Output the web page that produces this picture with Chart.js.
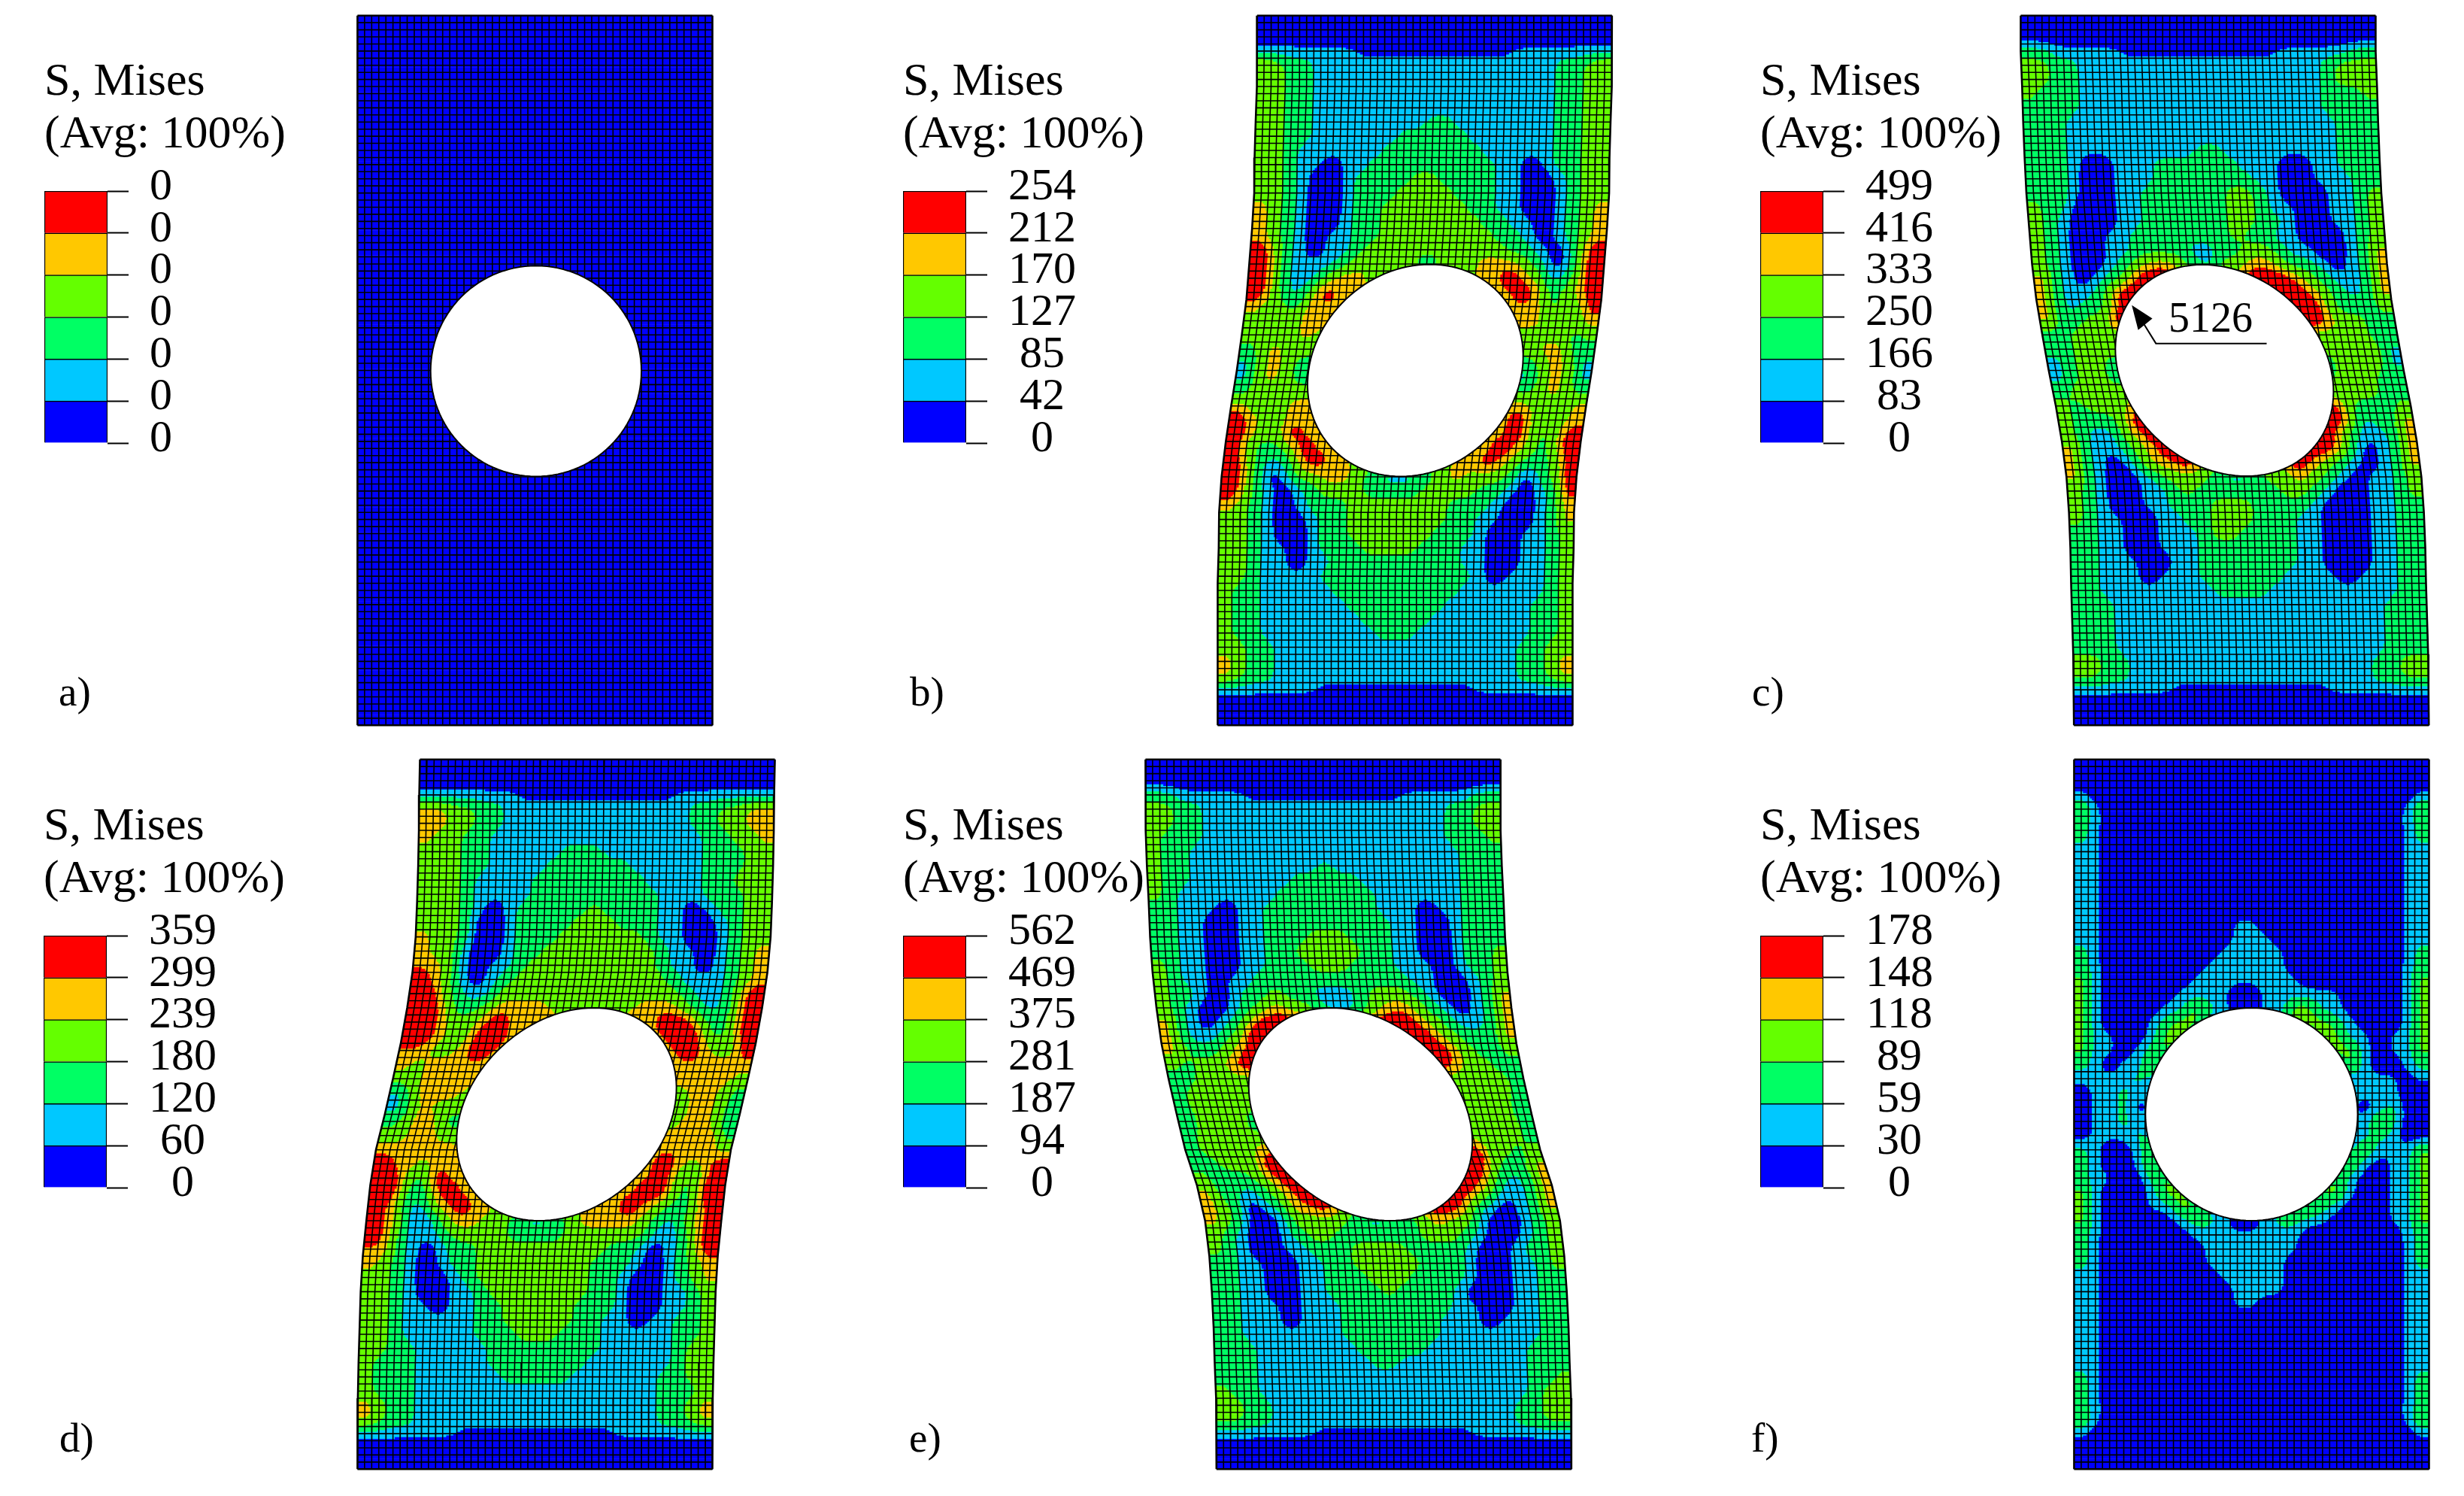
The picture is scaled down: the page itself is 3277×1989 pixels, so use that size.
<!DOCTYPE html>
<html>
<head>
<meta charset="utf-8">
<script src="https://cdn.jsdelivr.net/npm/chart.js@4"></script>
<style>
html,body{margin:0;padding:0;background:#fff}
#page{position:relative;width:3277px;height:1989px;overflow:hidden;background:#fff}
canvas{position:absolute}
.txt{position:absolute;font-family:"Liberation Serif",serif;color:#000;line-height:1;white-space:pre;z-index:5}
</style>
</head>
<body>
<div id="page"></div>
<script>
// ---------- data ----------
const titleLines = ['S, Mises', '(Avg: 100%)'];
const bandColors = ['#0000ff', '#00c8ff', '#00ff64', '#64ff00', '#ffc800', '#ff0000'];
const panelNames = ['a)', 'b)', 'c)', 'd)', 'e)', 'f)'];
const ticksA = ['0', '0', '0', '0', '0', '0', '0'];
const ticksB = ['0', '42', '85', '127', '170', '212', '254'];
const ticksC = ['0', '83', '166', '250', '333', '416', '499'];
const ticksD = ['0', '60', '120', '180', '239', '299', '359'];
const ticksE = ['0', '94', '187', '281', '375', '469', '562'];
const ticksF = ['0', '30', '59', '89', '118', '148', '178'];
const peakLabel = '5126';

// left edge of the deformed plate at 21 stations down its height (plate width 100, height 200)
const edgeA = [0,0,0,0,0,0,0,0,0,0,0,0,0,0,0,0,0,0,0,0,0];
const edgeB = [11.1,11.1,11,10.7,10.4,10.3,9.7,8.9,8.1,6.8,5.4,3.8,2.3,1.1,0.4,0.3,0,0,0,0,0];
const edgeC = [0,0,0.4,0.7,1.1,1.6,2.4,3.2,4.4,6.1,7.9,9.9,11.6,12.9,13.6,14,14.2,14.5,14.8,14.9,15];
const edgeD = [17.6,17.4,17.3,17.1,16.8,16.4,15.5,14,12.2,10,7.7,5.2,3.6,2.5,1.5,0.9,0.6,0.3,0.1,0,0];
const edgeE = [0,0,0.1,0.4,0.9,1.3,2,3.1,4.5,6.5,8.8,11.2,14.5,16.8,18,18.7,19.2,19.5,19.9,20,20];
const edgeF = [0,0,0,0,0,0,0,0,0,0,0,0,0,0,0,0,0,0,0,0,0];

// hole: centre x, centre y, radius x, radius y, shear of the top point
const holeA = [50.3,100.2,29.7,29.7,0];
const holeB = [55.7,100,30.1,29.9,4.1];
const holeC = [57.4,100,30.1,29.8,-6.2];
const holeD = [58.9,100,30,30,7.7];
const holeE = [60.6,100,30.4,30,-8.3];
const holeF = [50,100,29.9,30,0];

// leader of the peak value in panel c
const arrowHead = [[31.3,81.6],[37.1,85.4],[33.1,88.6]];
const arrowLine = [[34.7,86.9],[38.1,92.4],[69.3,92.4]];

// contour band per cell (0 blue ... 5 red, h halfway between blue and cyan), row by row from the top, left edge to right edge
const zero = '0000000000000000000000000';
const fieldA = Array(50).fill(zero);
const fieldB = [zero,zero,
'1111111hhhhhhhhhhh1111111','4322111111111111111112234','3322111111111111111112233','3322111111111111111112233',
'3322111111111111111112233','3322111111112211111112233','3322111111222221111112233','3321111112222222111112233',
'3321101122222222211012233','3321001222233222211001233','3321001222333322211001233','4321001223333332211001234',
'4321001223333333221101234','4321011223333333322101234','5421011233333333332210145','5421112343331333444320145',
'5421134433333333445431245','5421354443333333344542345','4332444443333333444442335','3333444333333333334443334',
'3333433333333333333333323','2343333333333333333334422','1343222222222222222223431','1343222222111111111113431',
'2333333333333333333323432','4333444433333334444443334','5433444333333333344453334','5433544333333333344453245',
'5322354433333333334543245','5421245443333333445432235','5420133443211123433320235','5421012333222233332210125',
'4321012223333333222100124','3321001223333333221100124','3321001223333332221001123','3321101222333322211001123',
'3321101122222222211001123','3321111222222222221011123','3221111122222222211111123','3221111112222222111111223',
'3221111111222221111111223','3221111111122211111111223','3322111111111111111112233','4322111111111111111112234',
'4322111111111111111112234','1111111hhhhhhhhhhh1111111',zero,zero];
const fieldC = [zero,zero,
'2211111hhhhhhhhhhh1111122','3322111111111111111112333','3322111111111111111112333','3222111111111111111112223',
'2222111111111111111112222','2221111111111111111111222','2221111111111111111111222','2221111111112211111111222',
'2221001112222221110011222','2221001112222222110011122','2221001122222233210001123','3220001122222233211001123',
'3210001122222233221001123','3210011222222232211000123','3210011222211223321100124','3210012344321334432210124',
'4210123555433345554321124','4211245554333345555432124','4212245554333334555532223','4223355433333333455543322',
'2233333333333333333333322','2233333333333333333333331','1233222222222111111133331','1233222222222222222233322',
'2333333333333333333333322','3233344333333333345532223','3222355543333333455541224','3211345554333333455421124',
'4211234554333334555420124','4210134454333334543210124','4210012333211233432101123','3210011232222223321001123',
'3210011222333222210001122','3211001122333222110001122','2211001112332222110001122','2211001112222222110001122',
'2211100112222222110001122','2211101112222221111011122','2211111111222211111111122','2221111111111111111111222',
'2221111111111111111111222','2221111111111111111111222','2221111111111111111111222','3322111111111111111112233',
'3322111111111111111112233','1111111hhhhhhhhhhh1111111',zero,zero];
const fieldD = [zero,zero,
'1111111hhhhhhhhhhh1111111','4433221111111111111223344','4433221111111111111223344','4332211111111111111122334',
'3332211111222111111122233','3332211112222221111122233','3332111122222222111122333','3332111122222222211122233',
'3332101222223222211012233','3332001222233322211001233','4332001222333333211001233','4331001223333333321101234',
'4431011233333333321101234','5431012333333333332111234','5532113333333333333211245','5542234444333333444321245',
'5543345444444444445542245','5543355444444444444553245','4433454444444444444454335','4344444444444444444444444',
'3344444444444444444444443','1344433333333333333334432','1243333333333333333324432','2344222222222222222234431',
'3344333333333333334444442','4444443333333333334444443','5443444333333333344454345','5532544433333333444453245',
'5531454433333333444553255','5421345443333334445432245','5430134433211234444321345','5421123333222233333311245',
'4421012233333333322101245','4321012233333333222101234','3321001233333333221001234','3321001123333333221001123',
'3321101122333332221001123','3321111122333332211011223','3321111122233322211111223','3322111112222222211111233',
'3222111112222222111111233','3222111111222221111112233','3222111111111111111112223','4322111111111111111112234',
'4322111111111111111112234','1111111hhhhhhhhhhh1111111',zero,zero];
const fieldE = [zero,zero,
'2211111hhhhhhhhhhh1111122','3322111111111111111112233','3322111111111111111112233','3222111111111111111112223',
'3221111111111111111111222','3221111111112111111111222','3221111111222221111111222','3211111112222222111111222',
'2211101122222222111011222','2211001122222222211001222','2211001122233322211001222','2211001122333332211001223',
'3211001122233322211101223','3211011222222222221100123','3221012232211123332100124','3210012343321123443210124',
'4210124555433345554321124','4211235554333345555432224','4322345554333334555543223','3233455433333333455543322',
'2233333333333333333333332','2333333333333333333333332','2333333333333333333333331','1333311111111333333333332',
'2333333333333333333333332','2333344433333333345553323','2233355543333333455553224','3222345554333333455542124',
'4221234554333334455431124','4320124454333334554210124','4320013333211223433100123','3210012332222223332100123',
'3210011222333322221001223','2211001122333332221001123','2211001122233322221001122','2211001122223222210001122',
'2211101112222222211001122','2211101112222222111011122','2211111112222222111111122','2221111111222221111111222',
'2221111111122111111111222','2221111111111111111111223','3221111111111111111111233','3322111111111111111112233',
'3322111111111111111112233','1111111hhhhhhhhhhh1111111',zero,zero];
const fieldF = [zero,zero,
'1000000000000000000000001','3100000000000000000000013','2100000000000000000000012','2100000000000000000000012',
'1100000000000000000000011','1100000000000000000000011','1100000000000000000000011','1100000000000000000000011',
'1100000000000000000000011','1100000000011000000000011','1100000000011100000000011','2100000000111110000000012',
'2100000001111110000000012','3100000011111111000000013','3100000111100111111000013','3100001132100113311000013',
'3100012331111113332100013','3110013311111111133110113','3110123111111111113310113','2101131111111111111310012',
'1111211111111111111111101','0112111111111111111111100','0112011111111111111101200','0112111111111111111113200',
'0111211111111111111112100','2100131111111111111131113','2100131111111111111310113','2110023111111111113100113',
'3100013311111111133100113','3100011331111113321000113','3100000122100122110000113','2100000011111111000000012',
'2100000001111111000000012','2100000001111110000000012','1100000000111110000000011','1100000000011110000000011',
'1100000000011000000000011','1100000000000000000000011','1100000000000000000000011','1100000000000000000000011',
'1100000000000000000000011','2100000000000000000000012','2100000000000000000000012','2100000000000000000000012',
'3100000000000000000000013','1000000000000000000000001',zero,zero];

// ---------- layout ----------
const layout = [
  {plateX: 475,  plateY: 21,   swatchX: 59,   titleY: 75,   nameX: 78,   nameBase: 938,  ticks: ticksA, edge: edgeA, hole: holeA, field: fieldA},
  {plateX: 1619, plateY: 21,   swatchX: 1201, titleY: 75,   nameX: 1210, nameBase: 938,  ticks: ticksB, edge: edgeB, hole: holeB, field: fieldB},
  {plateX: 2687, plateY: 21,   swatchX: 2341, titleY: 75,   nameX: 2330, nameBase: 938,  ticks: ticksC, edge: edgeC, hole: holeC, field: fieldC},
  {plateX: 475,  plateY: 1010, swatchX: 58,   titleY: 1065, nameX: 79,   nameBase: 1930, ticks: ticksD, edge: edgeD, hole: holeD, field: fieldD},
  {plateX: 1523, plateY: 1010, swatchX: 1201, titleY: 1065, nameX: 1209, nameBase: 1930, ticks: ticksE, edge: edgeE, hole: holeE, field: fieldE},
  {plateX: 2758, plateY: 1010, swatchX: 2341, titleY: 1065, nameX: 2329, nameBase: 1930, ticks: ticksF, edge: edgeF, hole: holeF, field: fieldF}
];
const unitPx = 4.72, plateW = 100, plateH = 200, xMin = -2, xMax = 123, yMin = -1, yMax = 201;
const meshColumns = 50, meshRows = 100;
const fontFamily = '"Liberation Serif", "Times New Roman", serif';
const page = document.getElementById('page');

function edgeAt(edge, y) {
  const f = Math.max(0, Math.min(edge.length - 1.000001, y / plateH * (edge.length - 1)));
  const i = Math.floor(f);
  return edge[i] + (edge[i + 1] - edge[i]) * (f - i);
}
function splineWeights(t) {
  const s = 1 - t;
  return [s*s*s / 6, (3*t*t*t - 6*t*t + 4) / 6, (-3*t*t*t + 3*t*t + 3*t + 1) / 6, t*t*t / 6];
}
const charValue = c => c === 'h' ? 0.5 : +(c || 0);
function fieldAt(rows, x, y, edge) {
  const nr = rows.length, nc = rows[0].length;
  const u = Math.max(0, Math.min(nc - 1.000001, (x - edgeAt(edge, y)) / plateW * nc - 0.5));
  const v = Math.max(0, Math.min(nr - 1.000001, y / plateH * nr - 0.5));
  const i = Math.floor(u), j = Math.floor(v);
  const wx = splineWeights(u - i), wy = splineWeights(v - j);
  let s = 0;
  for (let b = 0; b < 4; b++) {
    const row = rows[Math.max(0, Math.min(nr - 1, j - 1 + b))];
    for (let a = 0; a < 4; a++) {
      s += wx[a] * wy[b] * charValue(row[Math.max(0, Math.min(nc - 1, i - 1 + a))]);
    }
  }
  return s;
}
function bandOf(val) {
  if (val < 0.7) return 0;
  if (val >= 4.2) return 5;
  return Math.max(1, Math.min(4, Math.round(val)));
}

class ContourController extends Chart.ScatterController {
  draw() {
    const chart = this.chart, ctx = chart.ctx, ds = this.getDataset();
    const X = chart.scales.x, Y = chart.scales.y, step = 0.5;
    ctx.save();
    for (let y = 0; y < plateH; y += step) {
      const py0 = Y.getPixelForValue(y), py1 = Y.getPixelForValue(y + step) + 0.7;
      const l0 = edgeAt(ds.edge, y), l1 = edgeAt(ds.edge, y + step), lm = edgeAt(ds.edge, y + step / 2);
      let runStart = 0, band = -1;
      const flush = (endU) => {
        if (band < 0) return;
        ctx.fillStyle = ds.bandColors[band];
        ctx.beginPath();
        ctx.moveTo(X.getPixelForValue(l0 + runStart), py0);
        ctx.lineTo(X.getPixelForValue(l0 + endU) + 0.7, py0);
        ctx.lineTo(X.getPixelForValue(l1 + endU) + 0.7, py1);
        ctx.lineTo(X.getPixelForValue(l1 + runStart), py1);
        ctx.closePath();
        ctx.fill();
      };
      for (let u = 0; u < plateW; u += step) {
        const b = bandOf(fieldAt(ds.levels, lm + u + step / 2, y + step / 2, ds.edge));
        if (b !== band) { flush(u); band = b; runStart = u; }
      }
      flush(plateW);
    }
    ctx.restore();
  }
}
ContourController.id = 'contour';
class PolygonController extends Chart.ScatterController {
  draw() {
    const ctx = this.chart.ctx, ds = this.getDataset(), pts = this._cachedMeta.data;
    if (!pts.length) return;
    ctx.save();
    ctx.beginPath();
    pts.forEach((p, i) => i ? ctx.lineTo(p.x, p.y) : ctx.moveTo(p.x, p.y));
    ctx.closePath();
    ctx.fillStyle = ds.polyFill;
    ctx.fill();
    if (ds.polyStroke) { ctx.strokeStyle = ds.polyStroke; ctx.lineWidth = ds.polyWidth; ctx.stroke(); }
    ctx.restore();
  }
}
PolygonController.id = 'polygon';
Chart.register(ContourController, PolygonController);

function addCanvas(left, top, w, h, z) {
  const c = document.createElement('canvas');
  c.width = w; c.height = h;
  c.style.cssText = `left:${left}px;top:${top}px;width:${w}px;height:${h}px;z-index:${z}`;
  page.appendChild(c);
  return c;
}

layout.forEach((p, idx) => {
  // plate
  const W = Math.round((xMax - xMin) * unitPx), H = Math.round((yMax - yMin) * unitPx);
  const cv = addCanvas(Math.round(p.plateX + xMin * unitPx), Math.round(p.plateY + yMin * unitPx), W, H, 1);
  const datasets = [];
  const nodes = [];
  p.field.forEach((row, r) => {
    for (let c = 0; c < row.length; c++) {
      const y = (r + 0.5) / p.field.length * plateH;
      nodes.push({x: edgeAt(p.edge, y) + (c + 0.5) / row.length * plateW, y});
    }
  });
  datasets.push({type: 'contour', data: nodes, levels: p.field, edge: p.edge, bandColors, order: 3});
  for (let j = 0; j <= meshRows; j++) {
    const y = j / meshRows * plateH;
    datasets.push({data: [{x: edgeAt(p.edge, y), y}, {x: edgeAt(p.edge, y) + plateW, y}], showLine: true, pointRadius: 0,
      borderColor: '#000', borderWidth: (j === 0 || j === meshRows) ? 2.4 : 1.6, order: 2});
  }
  for (let i = 0; i <= meshColumns; i++) {
    const u = i / meshColumns * plateW;
    datasets.push({data: p.edge.map((e, k) => ({x: e + u, y: k / (p.edge.length - 1) * plateH})), showLine: true, pointRadius: 0,
      borderColor: '#000', borderWidth: (i === 0 || i === meshColumns) ? 2.6 : 1.6, order: 2});
  }
  const [cx, cy, rx, ry, k] = p.hole;
  const holePts = [];
  for (let t = 0; t < 120; t++) {
    const a = t / 120 * 2 * Math.PI;
    holePts.push({x: cx + rx * Math.cos(a) - k * Math.sin(a), y: cy + ry * Math.sin(a)});
  }
  datasets.push({type: 'polygon', data: holePts, polyFill: '#fff', polyStroke: '#000', polyWidth: 2, order: 1});
  if (idx === 2) {
    datasets.push({type: 'polygon', data: arrowHead.map(a => ({x: a[0], y: a[1]})), polyFill: '#000', order: 0});
    datasets.push({data: arrowLine.map(a => ({x: a[0], y: a[1]})), showLine: true, pointRadius: 0, borderColor: '#000', borderWidth: 2, order: 0});
  }
  new Chart(cv, {
    type: 'scatter',
    data: {datasets},
    options: {
      responsive: false, animation: false, devicePixelRatio: 1, events: [],
      layout: {padding: 0, autoPadding: false},
      plugins: {legend: {display: false}, tooltip: {enabled: false}},
      scales: {
        x: {type: 'linear', min: xMin, max: xMax, display: false},
        y: {type: 'linear', min: yMin, max: yMax, reverse: true, display: false}
      }
    }
  });

  // colour key
  const keyW = 340, keyH = 578, barW = 84, pad = 2;
  const kc = addCanvas(p.swatchX - pad, p.titleY, keyW, keyH, 2);
  new Chart(kc, {
    type: 'bar',
    data: {
      labels: ['S, Mises'],
      datasets: bandColors.map((col, i) => ({
        data: [[i, i + 1]], backgroundColor: col, borderColor: '#000', borderWidth: 1.5,
        barPercentage: 1, categoryPercentage: 1, grouped: false
      }))
    },
    options: {
      responsive: false, animation: false, devicePixelRatio: 1, events: [],
      layout: {padding: {left: pad, top: 0, right: 0, bottom: 40}, autoPadding: false},
      plugins: {
        legend: {display: false}, tooltip: {enabled: false},
        title: {display: true, text: titleLines, align: 'start', color: '#000',
          font: {family: fontFamily, size: 62, weight: 'normal', lineHeight: '70px'}, padding: {top: 0, bottom: 39}}
      },
      scales: {
        x: {display: false},
        y: {
          type: 'linear', position: 'right', min: 0, max: 6,
          afterFit: s => { s.width = keyW - pad - barW; },
          border: {display: false},
          grid: {drawOnChartArea: false, drawTicks: true, tickLength: 28, tickColor: '#000', tickWidth: 2},
          ticks: {stepSize: 1, autoSkip: false, padding: 28, crossAlign: 'center', labelOffset: -5, color: '#000',
            font: {family: fontFamily, size: 60}, callback: v => p.ticks[v]}
        }
      }
    }
  });

  // panel name
  const t = document.createElement('div');
  t.className = 'txt';
  t.textContent = panelNames[idx];
  t.style.cssText = `left:${p.nameX}px;top:${p.nameBase - 46}px;font-size:55px`;
  page.appendChild(t);
});

const pk = document.createElement('div');
pk.className = 'txt';
pk.textContent = peakLabel;
pk.style.cssText = 'left:2884px;top:394px;font-size:56px';
page.appendChild(pk);
</script>
</body>
</html>
